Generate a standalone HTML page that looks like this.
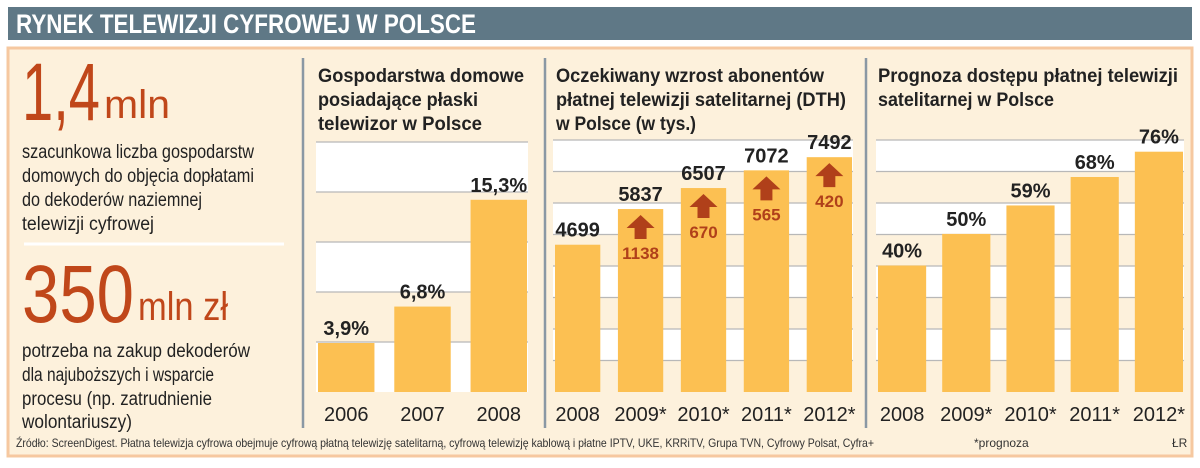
<!DOCTYPE html>
<html><head><meta charset="utf-8">
<style>
html,body{margin:0;padding:0;background:#fff;}
svg{display:block;}
text{font-family:"Liberation Sans Narrow","Liberation Sans",sans-serif;}
</style></head>
<body>
<svg id="chart" width="1200" height="468" viewBox="0 0 1200 468" xmlns="http://www.w3.org/2000/svg">
  <rect x="8" y="7" width="1184" height="33" fill="#5f7886"/>
  <text x="16" y="33" font-size="27" font-weight="bold" fill="#fff" textLength="460" lengthAdjust="spacingAndGlyphs">RYNEK TELEWIZJI CYFROWEJ W POLSCE</text>
  <rect x="8" y="48" width="1184" height="408" fill="#fdf1dc" stroke="#f6c8a0" stroke-width="3"/>
  <g>
    <text x="22" y="120" font-size="82" fill="#c0471a" textLength="78" lengthAdjust="spacingAndGlyphs">1,4</text>
    <text x="104" y="118" font-size="40" fill="#c0471a" textLength="66" lengthAdjust="spacingAndGlyphs">mln</text>
    <g font-size="19" fill="#222">
      <text x="22" y="158" textLength="232" lengthAdjust="spacingAndGlyphs">szacunkowa liczba gospodarstw</text>
      <text x="22" y="182" textLength="232" lengthAdjust="spacingAndGlyphs">domowych do objęcia dopłatami</text>
      <text x="22" y="206" textLength="180" lengthAdjust="spacingAndGlyphs">do dekoderów naziemnej</text>
      <text x="22" y="230" textLength="132" lengthAdjust="spacingAndGlyphs">telewizji cyfrowej</text>
    </g>
    <line x1="24" y1="244" x2="284" y2="244" stroke="#fff" stroke-width="3"/>
    <text x="22" y="322" font-size="82" fill="#c0471a" textLength="112" lengthAdjust="spacingAndGlyphs">350</text>
    <text x="138" y="320" font-size="40" fill="#c0471a" textLength="90" lengthAdjust="spacingAndGlyphs">mln zł</text>
    <g font-size="19" fill="#222">
      <text x="22" y="357" textLength="228" lengthAdjust="spacingAndGlyphs">potrzeba na zakup dekoderów</text>
      <text x="22" y="381" textLength="192" lengthAdjust="spacingAndGlyphs">dla najuboższych i wsparcie</text>
      <text x="22" y="405" textLength="190" lengthAdjust="spacingAndGlyphs">procesu (np. zatrudnienie</text>
      <text x="22" y="428" textLength="110" lengthAdjust="spacingAndGlyphs">wolontariuszy)</text>
    </g>
  </g>
  <line x1="303" y1="58" x2="303" y2="428" stroke="#8a98a4" stroke-width="2.5"/>
  <line x1="545" y1="58" x2="545" y2="428" stroke="#8a98a4" stroke-width="2.5"/>
  <line x1="866" y1="58" x2="866" y2="428" stroke="#8a98a4" stroke-width="2.5"/>
  <g font-size="19" font-weight="bold" fill="#222">
    <text x="318" y="82" textLength="206" lengthAdjust="spacingAndGlyphs">Gospodarstwa domowe</text>
    <text x="318" y="106" textLength="160" lengthAdjust="spacingAndGlyphs">posiadające płaski</text>
    <text x="318" y="130" textLength="164" lengthAdjust="spacingAndGlyphs">telewizor w Polsce</text>
    <text x="556" y="82" textLength="268" lengthAdjust="spacingAndGlyphs">Oczekiwany wzrost abonentów</text>
    <text x="556" y="106" textLength="290" lengthAdjust="spacingAndGlyphs">płatnej telewizji satelitarnej (DTH)</text>
    <text x="556" y="130" textLength="140" lengthAdjust="spacingAndGlyphs">w Polsce (w tys.)</text>
    <text x="878" y="82" textLength="300" lengthAdjust="spacingAndGlyphs">Prognoza dostępu płatnej telewizji</text>
    <text x="878" y="106" textLength="176" lengthAdjust="spacingAndGlyphs">satelitarnej w Polsce</text>
  </g>
  <g id="plots"></g>
  <text x="16" y="447" font-size="12" fill="#333" textLength="858" lengthAdjust="spacingAndGlyphs">Źródło: ScreenDigest. Płatna telewizja cyfrowa obejmuje cyfrową płatną telewizję satelitarną, cyfrową telewizję kablową i płatne IPTV, UKE, KRRiTV, Grupa TVN, Cyfrowy Polsat, Cyfra+</text>
  <text x="974" y="447" font-size="12" fill="#333">*prognoza</text>
  <text x="1172" y="447" font-size="12" fill="#333">ŁR</text>
</svg>
<script>
const flatYears = ["2006","2007","2008"];
const flatValues = [3.9, 6.8, 15.3];
const flatLabels = ["3,9%","6,8%","15,3%"];
const dthYears = ["2008","2009*","2010*","2011*","2012*"];
const dthValues = [4699, 5837, 6507, 7072, 7492];
const dthGrowth = [null, 1138, 670, 565, 420];
const payYears = ["2008","2009*","2010*","2011*","2012*"];
const payValues = [40, 50, 59, 68, 76];
const payLabels = ["40%","50%","59%","68%","76%"];

const NS = "http://www.w3.org/2000/svg";
const root = document.getElementById("plots");
function mk(tag, attrs, parent){ const e=document.createElementNS(NS,tag); for(const k in attrs) e.setAttribute(k,attrs[k]); (parent||root).appendChild(e); return e; }

function panel(name, x0, x1, top, bottom, band, cats, vals, maxV, labels, growth, f){
  const g = mk("g", {});
  
  
  mk("rect",{x:x0,y:top,width:x1-x0,height:bottom-top,fill:"#fff"},g);
  let i=0;
  for(let y=top; y<bottom; y+=band, i++){
    const h=Math.min(band,bottom-y);
    if(i%2===1) mk("rect",{x:x0,y:y,width:x1-x0,height:h,fill:"#fdf1dc"},g);
    const gl = mk("line",{x1:x0,y1:y,x2:x1,y2:y,stroke:"#b8b8b8","stroke-width":1.2},g);
    
    
  }
  const n=cats.length;
  const pitch=(x1-x0-3)/(n-1+f), bw=pitch*f;
  const yS = v => bottom - (v/maxV)*(bottom-top);
  cats.forEach((c,k)=>{
    const bx = x0 + 2 + pitch*k;
    const by = yS(vals[k]);
    const r = mk("rect",{x:bx,y:by,width:bw,height:bottom-by,fill:"#fcc052"},g);
    
    
    const t = mk("text",{x:bx+bw/2,y:by-8,"text-anchor":"middle","font-size":20,"font-weight":"bold",fill:"#222"},g);
    t.textContent = labels[k];
    
    
    const xl = mk("text",{x:bx+bw/2,y:bottom+29,"text-anchor":"middle","font-size":20,fill:"#222"},g);
    xl.textContent = c;
    
    
    if(growth && growth[k]!=null){
      const cx=bx+bw/2, ay=by+6;
      const a = mk("path",{d:`M${cx} ${ay} L${cx+14} ${ay+13} L${cx+6} ${ay+13} L${cx+6} ${ay+24} L${cx-6} ${ay+24} L${cx-6} ${ay+13} L${cx-14} ${ay+13} Z`,fill:"#b0401a"},g);
      
      
      const gt = mk("text",{x:cx,y:ay+44,"text-anchor":"middle","font-size":17,"font-weight":"bold",fill:"#b0401a"},g);
      gt.textContent = growth[k];
      
      
    }
  });
}
panel("flat-tv-chart", 316, 528, 142, 392, 50, flatYears, flatValues, 19.9, flatLabels, null, 0.74);
panel("dth-chart", 553, 853, 140, 392, 31.5, dthYears, dthValues, 8040, dthValues.map(String), dthGrowth, 0.72);
panel("pay-tv-chart", 876, 1184, 140, 392, 31.5, payYears, payValues, 79.7, payLabels, null, 0.75);
</script>
</body></html>
